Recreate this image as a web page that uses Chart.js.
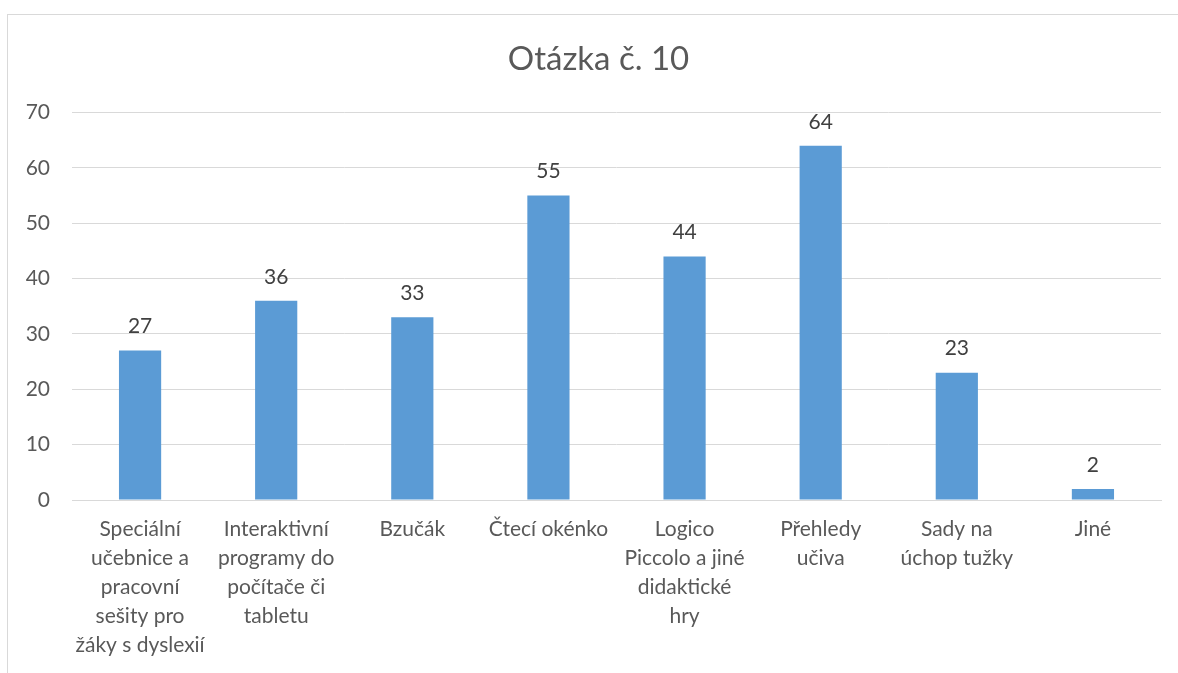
<!DOCTYPE html>
<html>
<head>
<meta charset="utf-8">
<script src="https://cdn.jsdelivr.net/npm/chart.js@4"></script>
<style>
  html, body { margin: 0; padding: 0; background: #fff; }
  #wrap { position: relative; width: 1178px; height: 673px; }
  #frame { position: absolute; left: 7px; top: 14px; right: 0; bottom: 0;
           border-top: 1px solid #d9d9d9; border-left: 1px solid #d9d9d9; }
  canvas { position: absolute; left: 0; top: 0; }
</style>
</head>
<body>
<div id="wrap">
  <div id="frame"></div>
  <canvas id="myChart" width="1178" height="673"></canvas>
</div>
<script>
// categories (line breaks as in the picture)
const categories = [
  ["Speciální", "učebnice a", "pracovní", "sešity pro", "žáky s dyslexií"],
  ["Interaktivní", "programy do", "počítače či", "tabletu"],
  ["Bzučák"],
  ["Čtecí okénko"],
  ["Logico", "Piccolo a jiné", "didaktické", "hry"],
  ["Přehledy", "učiva"],
  ["Sady na", "úchop tužky"],
  ["Jiné"]
];
const answers = [27, 36, 33, 55, 44, 64, 23, 2];
const yTicks = [0, 10, 20, 30, 40, 50, 60, 70];

const textColor = '#595959';
const fontFamily = 'Lato, "Open Sans", sans-serif';

// value labels above bars
const valueLabels = {
  id: 'valueLabels',
  afterLayout(chart) {
    // title sits a bit right of the canvas centre
    if (chart.titleBlock) chart.titleBlock.left = 36;
  },
  afterDatasetsDraw(chart) {
    const ctx = chart.ctx;
    const meta = chart.getDatasetMeta(0);
    ctx.save();
    ctx.fillStyle = '#404040';
    ctx.font = '21px ' + fontFamily;
    ctx.textAlign = 'center';
    ctx.textBaseline = 'middle';
    meta.data.forEach((bar, i) => {
      ctx.fillText(answers[i], bar.x, bar.y - 24);
    });
    ctx.restore();
  }
};

const ctx = document.getElementById('myChart');
new Chart(ctx, {
  type: 'bar',
  data: {
    labels: categories,
    datasets: [{
      data: answers,
      backgroundColor: '#5B9BD5',
      borderWidth: 0,
      categoryPercentage: 1,
      barPercentage: 0.31
    }]
  },
  options: {
    responsive: false,
    animation: false,
    layout: { padding: { left: 0, right: 17, top: 0, bottom: 0 } },
    plugins: {
      legend: { display: false },
      tooltip: { enabled: false },
      title: {
        display: true,
        text: 'Otázka č. 10',
        color: textColor,
        font: { family: fontFamily, size: 33, weight: 'normal' },
        padding: { top: 40, bottom: 33 }
      }
    },
    scales: {
      x: {
        grid: { display: false, drawTicks: false },
        border: { display: true, color: '#d9d9d9', width: 1 },
        ticks: {
          color: textColor,
          font: { family: fontFamily, size: 21, lineHeight: 1.38 },
          padding: 15,
          maxRotation: 0,
          autoSkip: false
        },
        afterFit(scale) { scale.height = 173; }
      },
      y: {
        min: 0,
        max: 70,
        afterBuildTicks(scale) { scale.ticks = yTicks.map(v => ({ value: v })); },
        grid: { color: '#d9d9d9', lineWidth: 1, drawTicks: false },
        border: { display: false },
        ticks: {
          color: textColor,
          font: { family: fontFamily, size: 21 },
          padding: 22
        },
        afterFit(scale) { scale.width = 72; }
      }
    }
  },
  plugins: [valueLabels]
});
</script>
</body>
</html>
